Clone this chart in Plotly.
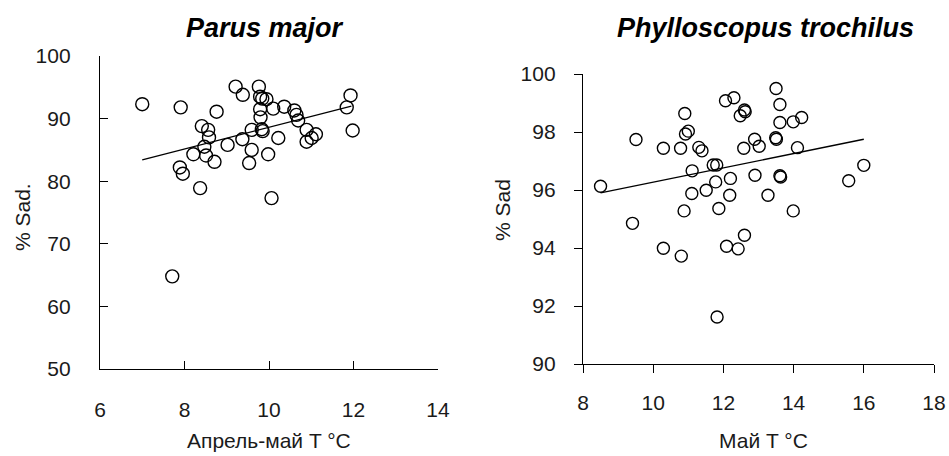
import plotly.graph_objects as go

W, H = 949, 456

# ---- Data: Parus major (April-May temperature vs % Sad.) ----
pm_temp = [7.00, 7.91, 7.89, 7.96, 7.71, 8.37, 8.41, 8.56, 8.58, 8.47, 8.21, 8.51,
           8.71, 8.76, 9.02, 9.21, 9.38, 9.37, 9.59, 9.59, 9.53, 9.98, 9.76, 9.79,
           9.84, 9.94, 9.79, 9.80, 9.83, 9.85, 10.06, 10.10, 10.22, 10.36, 10.60,
           10.65, 10.69, 10.89, 11.01, 11.11, 10.89, 11.84, 11.93, 11.98]
pm_sad = [92.3, 91.8, 82.2, 81.2, 64.8, 78.9, 88.8, 88.2, 87.0, 85.5, 84.3, 84.1,
          83.1, 91.1, 85.8, 95.1, 93.8, 86.7, 88.2, 85.0, 82.9, 84.3, 95.1, 93.5,
          93.2, 93.1, 91.5, 90.2, 88.3, 88.0, 77.3, 91.6, 86.9, 91.9, 91.3,
          90.6, 89.7, 88.2, 86.9, 87.5, 86.3, 91.8, 93.7, 88.1]
pm_trend_x = [7.0, 11.95]
pm_trend_y = [83.4, 92.0]

# ---- Data: Phylloscopus trochilus (May temperature vs % Sad) ----
pt_temp = [8.50, 9.51, 9.41, 10.29, 10.29, 10.78, 10.80, 10.90, 10.92, 11.00,
           10.88, 11.11, 11.10, 11.30, 11.39, 11.51, 11.71, 11.81, 11.78, 11.87,
           11.82, 12.06, 12.30, 12.20, 12.18, 12.09, 12.42, 12.60, 12.48, 12.60,
           12.62, 12.58, 12.89, 13.02, 12.90, 13.27, 13.50, 13.61, 13.61, 13.49,
           13.51, 13.61, 13.63, 13.99, 14.23, 14.11, 13.99, 15.57, 16.00]
pt_sad = [96.13, 97.74, 94.85, 97.44, 93.99, 97.44, 93.72, 98.64, 97.93, 98.03,
          95.28, 96.66, 95.88, 97.47, 97.35, 95.99, 96.86, 96.86, 96.28, 95.36,
          91.62, 99.08, 99.18, 96.40, 95.82, 94.06, 93.97, 94.44, 98.56, 98.76,
          98.70, 97.44, 97.75, 97.51, 96.51, 95.82, 99.50, 98.95, 98.33, 97.80,
          97.75, 96.49, 96.45, 98.35, 98.50, 97.46, 95.28, 96.32, 96.85]
pt_trend_x = [8.5, 16.0]
pt_trend_y = [95.9, 97.75]

titles = ["Parus major", "Phylloscopus trochilus"]
x_titles = ["Апрель-май T °C", "Май T °C"]
y_titles = ["% Sad.", "% Sad"]

FONT = "Liberation Sans, Arial, sans-serif"
INK = "#1a1a1a"


def px_x(p):
    return p / W


def px_y(p):
    return 1 - p / H


fig = go.Figure()

marker_common = dict(symbol="circle-open", color="black", line=dict(width=1.4, color="black"))

fig.add_trace(go.Scatter(x=pm_temp, y=pm_sad, mode="markers", xaxis="x", yaxis="y",
                         marker=dict(size=13, **marker_common), showlegend=False))
fig.add_trace(go.Scatter(x=pm_trend_x, y=pm_trend_y, mode="lines", xaxis="x", yaxis="y",
                         line=dict(color="black", width=1.3), showlegend=False))
fig.add_trace(go.Scatter(x=pt_temp, y=pt_sad, mode="markers", xaxis="x2", yaxis="y2",
                         marker=dict(size=12, **marker_common), showlegend=False))
fig.add_trace(go.Scatter(x=pt_trend_x, y=pt_trend_y, mode="lines", xaxis="x2", yaxis="y2",
                         line=dict(color="black", width=1.3), showlegend=False))

axis_common = dict(showgrid=False, zeroline=False, showline=True, linecolor="black",
                   linewidth=1.3, ticklen=8, tickwidth=1.3, tickcolor="black", automargin=False,
                   fixedrange=True, tickfont=dict(family=FONT, size=21, color=INK))

fig.update_layout(
    template="none",
    width=W, height=H, autosize=False,
    margin=dict(l=0, r=0, t=0, b=0, pad=0),
    paper_bgcolor="white", plot_bgcolor="white",
    xaxis=dict(domain=[px_x(100), px_x(438)], range=[6, 14], tickvals=[6, 8, 10, 12, 14],
               ticks="inside", ticklabelstandoff=22, anchor="y", **axis_common),
    yaxis=dict(domain=[px_y(369), px_y(56)], range=[50, 100], tickvals=[50, 60, 70, 80, 90, 100],
               ticks="inside", ticklabelstandoff=24, anchor="x", **axis_common),
    xaxis2=dict(domain=[px_x(583), px_x(934)], range=[8, 18], tickvals=[8, 10, 12, 14, 16, 18],
                ticks="outside", ticklabelstandoff=12, anchor="y2", **axis_common),
    yaxis2=dict(domain=[px_y(364), px_y(74)], range=[90, 100], tickvals=[90, 92, 94, 96, 98, 100],
                ticks="outside", ticklabelstandoff=14, anchor="x2", **axis_common),
)

ann = []
# panel titles
for text, cx in zip(titles, [265, 765]):
    ann.append(dict(text=f"<b><i>{text}</i></b>", x=px_x(cx), y=px_y(28), xref="paper", yref="paper",
                    xanchor="center", yanchor="middle", showarrow=False,
                    font=dict(family=FONT, size=27, color="black")))
# x axis titles
for text, cx in zip(x_titles, [269, 763]):
    ann.append(dict(text=text, x=px_x(cx), y=px_y(440), xref="paper", yref="paper",
                    xanchor="center", yanchor="middle", showarrow=False,
                    font=dict(family=FONT, size=21, color=INK)))
# y axis titles
for text, cx, cy in zip(y_titles, [22, 502], [217, 210]):
    ann.append(dict(text=text, x=px_x(cx), y=px_y(cy), xref="paper", yref="paper",
                    xanchor="center", yanchor="middle", showarrow=False, textangle=-90,
                    font=dict(family=FONT, size=21, color=INK)))
fig.update_layout(annotations=ann)

fig.write_html(
    "out.html",
    config={"displayModeBar": False},
    post_script="document.body.style.margin='0';document.body.style.overflow='hidden';",
)
